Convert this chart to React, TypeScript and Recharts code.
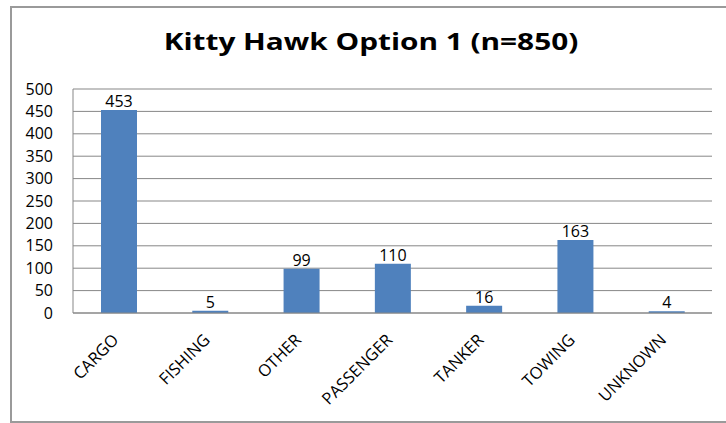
import React from "react";
import { BarChart, Bar, XAxis, YAxis, CartesianGrid, LabelList } from "recharts";

const categories = ["CARGO", "FISHING", "OTHER", "PASSENGER", "TANKER", "TOWING", "UNKNOWN"];
const counts = [453, 5, 99, 110, 16, 163, 4];
const yTicks = [0, 50, 100, 150, 200, 250, 300, 350, 400, 450, 500];
const title = "Kitty Hawk Option 1 (n=850)";

const data = categories.map((c, i) => ({ name: c, value: counts[i] }));

const FONT = "'Open Sans', 'Noto Sans', sans-serif";

const XTick = (props: any) => {
  const { x, y, payload } = props;
  const ax = x + 1;
  const ay = y + 20;
  return (
    <text
      x={ax}
      y={ay}
      transform={`rotate(-45, ${ax}, ${ay})`}
      textAnchor="end"
      fontSize={16.5}
      fontFamily={FONT}
      fill="#000"
    >
      {payload.value}
    </text>
  );
};

export default function App() {
  return (
    <div style={{ position: "absolute", left: 0, top: 0, width: 726, height: 423, overflow: "hidden", background: "#fff" }}>
      <div
        style={{
          position: "absolute",
          left: 10,
          top: 6,
          width: 740,
          height: 413,
          border: "2px solid #9a9a9a",
        }}
      />
      <div
        style={{
          position: "absolute",
          left: 0,
          width: 742,
          top: 24,
          textAlign: "center",
          fontFamily: FONT,
          fontWeight: 700,
          fontSize: 24,
          color: "#000",
          lineHeight: "34px",
          transform: "scaleX(1.24)",
          transformOrigin: "371px 0",
        }}
      >
        {title}
      </div>
      <div style={{ position: "absolute", left: 0, top: 0 }}>
        <BarChart
          width={726}
          height={423}
          data={data}
          margin={{ top: 89, right: 14, bottom: 0, left: 0 }}
        >
          <CartesianGrid vertical={false} stroke="#878787" strokeWidth={1} />
          <XAxis
            dataKey="name"
            interval={0}
            tickLine={false}
            axisLine={{ stroke: "#878787" }}
            tick={<XTick />}
            height={110}
          />
          <YAxis
            domain={[0, 500]}
            ticks={yTicks}
            width={73}
            tickLine={false}
            tickSize={0}
            tickMargin={20}
            axisLine={{ stroke: "#878787" }}
            tick={{ fontSize: 16, fontFamily: FONT, fill: "#000" }}
            interval={0}
          />
          <Bar dataKey="value" fill="#4F81BD" barSize={36} isAnimationActive={false}>
            <LabelList dataKey="value" position="top" offset={3} fontSize={16} fontFamily={FONT} fill="#000" />
          </Bar>
        </BarChart>
      </div>
    </div>
  );
}
